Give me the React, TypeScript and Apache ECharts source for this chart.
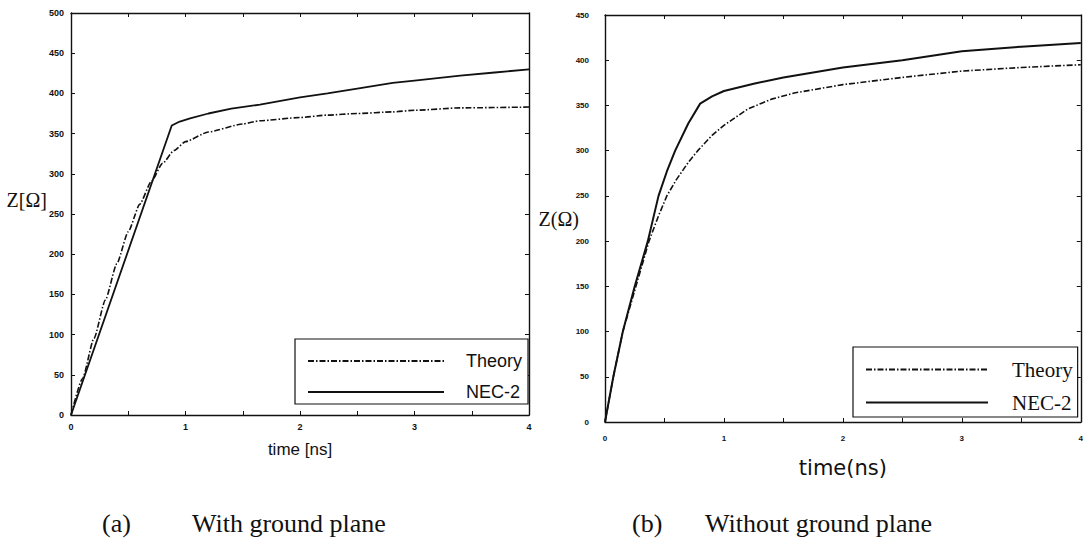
import React, { useEffect, useRef } from "react";
import * as echarts from "echarts";

// (a) With ground plane
const theoryTimeA = [0, 0.1, 0.2, 0.3, 0.4, 0.5, 0.6, 0.7, 0.8, 0.9, 1.0, 1.2, 1.5, 1.65, 2.0, 2.24, 2.5, 2.81, 3.0, 3.4, 4.0];
const theoryValA = [0, 45, 95, 143, 188, 228, 262, 290, 313, 329, 340, 352, 362, 366, 370, 373, 375, 377, 379, 382, 383];
const necTimeA = [0, 0.88, 0.95, 1.04, 1.2, 1.4, 1.65, 2.0, 2.24, 2.5, 2.81, 3.0, 3.4, 3.7, 4.0];
const necValA = [0, 360, 365, 369, 375, 381, 386, 395, 400, 406, 413, 416, 422, 426, 430];

// (b) Without ground plane
const theoryTimeB = [0, 0.07, 0.15, 0.26, 0.37, 0.45, 0.52, 0.6, 0.7, 0.78, 0.9, 1.0, 1.2, 1.4, 1.6, 2.0, 2.5, 3.0, 3.5, 4.0];
const theoryValB = [0, 50, 100, 150, 200, 228, 250, 268, 287, 300, 317, 328, 346, 357, 364, 373, 381, 388, 392, 395];
const necTimeB = [0, 0.07, 0.15, 0.25, 0.36, 0.45, 0.52, 0.59, 0.7, 0.8, 0.9, 1.0, 1.25, 1.5, 2.0, 2.5, 3.0, 3.5, 4.0];
const necValB = [0, 50, 100, 150, 200, 250, 277, 300, 330, 352, 360, 366, 374, 381, 392, 400, 410, 415, 419];

const xTicksMax = 4;
const yMaxA = 500;
const yMaxB = 450;
const legendNames = ["Theory", "NEC-2"];
const captions = [
  { label: "(a)", text: "With ground plane" },
  { label: "(b)", text: "Without ground plane" },
];

const pairs = (t: number[], v: number[]) => t.map((x, i) => [x, v[i]]);

export default function App() {
  const ref = useRef<HTMLDivElement>(null);
  useEffect(() => {
    if (!ref.current) return;
    const chart = echarts.init(ref.current, undefined, { renderer: "svg" });
    const tickFont = {
      fontFamily: "'Liberation Sans', sans-serif",
      fontWeight: "bold" as const,
      color: "#111",
    };
    const axisLine = { show: true, onZero: false, lineStyle: { color: "#111", width: 1.4 } };
    const axisTick = () => ({
      show: true,
      inside: true,
      length: 4,
      lineStyle: { color: "#111", width: 1 },
    });
    const intLabel = (v: number) => (Number.isInteger(v) ? String(v) : "");

    const xBase = (grid: number, nameText: string, nameGap: number, font: any, labelMargin: number, labelSize: number) => ({
      type: "value",
      gridIndex: grid,
      min: 0,
      max: xTicksMax,
      interval: 0.5,
      position: "bottom",
      axisLine,
      axisTick: axisTick(),
      splitLine: { show: false },
      axisLabel: { ...tickFont, fontSize: labelSize, margin: labelMargin, formatter: intLabel },
      name: nameText,
      nameLocation: "middle",
      nameGap,
      nameMoveOverlap: false,
      nameTextStyle: font,
    });
    const xMirror = (grid: number) => ({
      type: "value",
      gridIndex: grid,
      min: 0,
      max: xTicksMax,
      interval: 0.5,
      position: "top",
      axisLine,
      axisTick: axisTick(),
      splitLine: { show: false },
      axisLabel: { show: false },
    });
    const yMirror = (grid: number, max: number) => ({
      type: "value",
      gridIndex: grid,
      min: 0,
      max,
      interval: 50,
      position: "right",
      axisLine,
      axisTick: axisTick(),
      splitLine: { show: false },
      axisLabel: { show: false },
    });

    const serifName = { fontFamily: "'Liberation Serif', serif", fontSize: 20, color: "#111" };
    const noSymbolItem = { opacity: 0, borderWidth: 0 };

    const option: any = {
      animation: false,
      backgroundColor: "#ffffff",
      grid: [
        { left: 71, top: 13, width: 458, height: 402 },
        { left: 605, top: 15, width: 476, height: 407 },
      ],
      xAxis: [
        xBase(0, "time [ns]", 26, { fontFamily: "'Liberation Sans', sans-serif", fontSize: 17, color: "#111" }, 7, 9),
        xMirror(0),
        xBase(1, "time(ns)", 35, { fontFamily: "'DejaVu Sans', sans-serif", fontSize: 21, color: "#111" }, 12, 8),
        xMirror(1),
      ],
      yAxis: [
        {
          type: "value",
          gridIndex: 0,
          min: 0,
          max: yMaxA,
          interval: 50,
          position: "left",
          axisLine,
          axisTick: axisTick(),
          splitLine: { show: false },
          axisLabel: { ...tickFont, fontSize: 9, margin: 7 },
          name: "Z[Ω]",
          nameLocation: "middle",
          nameRotate: 0,
          nameGap: 24,
          nameMoveOverlap: false,
          nameTextStyle: { ...serifName, verticalAlign: "bottom", padding: [0, 0, 4, 0] },
        },
        yMirror(0, yMaxA),
        {
          type: "value",
          gridIndex: 1,
          min: 0,
          max: yMaxB,
          interval: 50,
          position: "left",
          axisLine,
          axisTick: axisTick(),
          splitLine: { show: false },
          axisLabel: { ...tickFont, fontSize: 8, margin: 16 },
          name: "Z(Ω)",
          nameLocation: "middle",
          nameRotate: 0,
          nameGap: 26,
          nameMoveOverlap: false,
          nameTextStyle: { ...serifName },
        },
        yMirror(1, yMaxB),
      ],
      legend: [
        {
          orient: "vertical",
          left: 295,
          top: 339,
          data: legendNames,
          selectedMode: false,
          itemWidth: 136,
          itemHeight: 12,
          itemGap: 13,
          padding: [13, 6, 3, 12],
          borderColor: "#111",
          borderWidth: 1.2,
          backgroundColor: "#fff",
          borderRadius: 0,
          itemStyle: noSymbolItem,
          textStyle: {
            fontFamily: "'Liberation Sans', sans-serif",
            fontSize: 18,
            color: "#111",
            padding: [0, 0, 0, 17],
          },
        },
        {
          orient: "vertical",
          left: 853,
          top: 347,
          data: legendNames,
          selectedMode: false,
          itemWidth: 122,
          itemHeight: 12,
          itemGap: 12,
          padding: [12, 5, 4, 12],
          borderColor: "#111",
          borderWidth: 1.2,
          backgroundColor: "#fff",
          borderRadius: 0,
          itemStyle: noSymbolItem,
          textStyle: {
            fontFamily: "'Liberation Serif', serif",
            fontSize: 21,
            color: "#111",
            padding: [0, 0, 0, 19],
          },
        },
      ],
      series: [
        {
          name: "Theory",
          type: "line",
          xAxisIndex: 0,
          yAxisIndex: 0,
          data: pairs(theoryTimeA, theoryValA),
          symbol: "none",
          smooth: 0.2,
          smoothMonotone: "x",
          itemStyle: { color: "#111" },
          lineStyle: { color: "#111", width: 1.6, type: [6, 2, 1.5, 2] },
          z: 3,
        },
        {
          name: "NEC-2",
          type: "line",
          xAxisIndex: 0,
          yAxisIndex: 0,
          data: pairs(necTimeA, necValA),
          symbol: "none",
          itemStyle: { color: "#111" },
          lineStyle: { color: "#111", width: 1.8, type: "solid" },
          z: 3,
        },
        {
          name: "Theory",
          type: "line",
          xAxisIndex: 2,
          yAxisIndex: 2,
          data: pairs(theoryTimeB, theoryValB),
          symbol: "none",
          itemStyle: { color: "#111" },
          lineStyle: { color: "#111", width: 1.6, type: [6, 2, 1.5, 2] },
          z: 3,
        },
        {
          name: "NEC-2",
          type: "line",
          xAxisIndex: 2,
          yAxisIndex: 2,
          data: pairs(necTimeB, necValB),
          symbol: "none",
          itemStyle: { color: "#111" },
          lineStyle: { color: "#111", width: 2, type: "solid" },
          z: 3,
        },
      ],
      graphic: [
        { type: "text", x: 102, y: 523, style: { text: captions[0].label, fontFamily: "'Liberation Serif', serif", fontSize: 26, fill: "#111", verticalAlign: "middle" } },
        { type: "text", x: 192, y: 523, style: { text: captions[0].text, fontFamily: "'Liberation Serif', serif", fontSize: 26, fill: "#111", verticalAlign: "middle" } },
        { type: "text", x: 632, y: 523, style: { text: captions[1].label, fontFamily: "'Liberation Serif', serif", fontSize: 26, fill: "#111", verticalAlign: "middle" } },
        { type: "text", x: 705, y: 523, style: { text: captions[1].text, fontFamily: "'Liberation Serif', serif", fontSize: 26, fill: "#111", verticalAlign: "middle" } },
      ],
    };
    chart.setOption(option);
    return () => chart.dispose();
  }, []);
  return <div ref={ref} style={{ position: "fixed", left: 0, top: 0, width: 1086, height: 540 }} />;
}
